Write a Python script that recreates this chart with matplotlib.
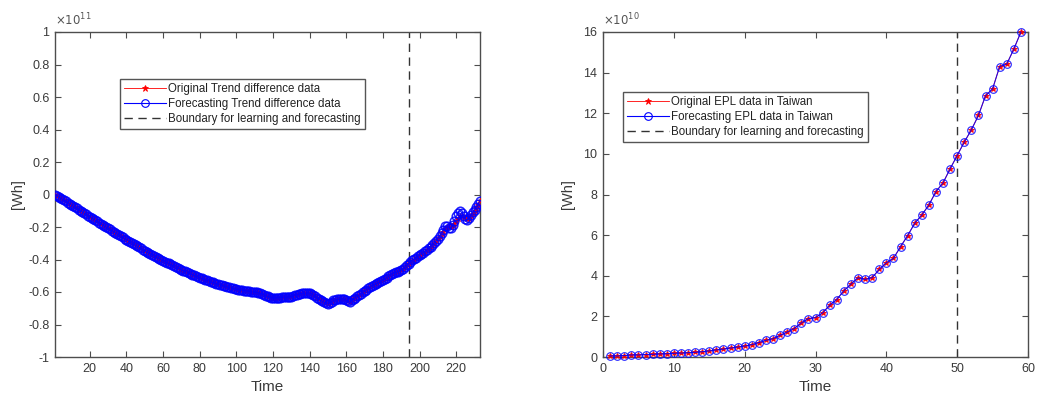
import numpy as np
import matplotlib
matplotlib.use("Agg")
import matplotlib.pyplot as plt
from matplotlib.lines import Line2D

plt.rcParams['font.family'] = ['Liberation Sans', 'DejaVu Sans']
plt.rcParams['axes.unicode_minus'] = False

# ---------------- data (left: trend difference, units of 1e11 Wh) ----------------
trend_original = [
    0.000, -0.007, -0.014, -0.022, -0.029, -0.036, -0.043, -0.050, -0.058, -0.065,
    -0.072, -0.079, -0.086, -0.094, -0.101, -0.108, -0.115, -0.122, -0.130, -0.137,
    -0.144, -0.151, -0.158, -0.166, -0.173, -0.180, -0.187, -0.194, -0.201, -0.208,
    -0.215, -0.222, -0.229, -0.236, -0.243, -0.250, -0.257, -0.264, -0.271, -0.278,
    -0.285, -0.292, -0.299, -0.306, -0.312, -0.319, -0.326, -0.332, -0.339, -0.345,
    -0.352, -0.358, -0.364, -0.371, -0.377, -0.383, -0.389, -0.395, -0.401, -0.407,
    -0.413, -0.419, -0.424, -0.430, -0.436, -0.441, -0.447, -0.452, -0.457, -0.463,
    -0.468, -0.473, -0.478, -0.483, -0.488, -0.493, -0.498, -0.503, -0.507, -0.512,
    -0.516, -0.521, -0.525, -0.529, -0.533, -0.537, -0.541, -0.545, -0.549, -0.552,
    -0.556, -0.559, -0.563, -0.566, -0.569, -0.572, -0.575, -0.578, -0.580, -0.583,
    -0.585, -0.587, -0.589, -0.591, -0.593, -0.594, -0.596, -0.598, -0.600, -0.601,
    -0.603, -0.605, -0.608, -0.612, -0.617, -0.622, -0.627, -0.631, -0.634, -0.636,
    -0.637, -0.636, -0.635, -0.634, -0.633, -0.632, -0.632, -0.631, -0.630, -0.628,
    -0.625, -0.621, -0.617, -0.613, -0.610, -0.609, -0.608, -0.607, -0.606, -0.607,
    -0.610, -0.617, -0.626, -0.636, -0.645, -0.652, -0.658, -0.664, -0.669, -0.672,
    -0.668, -0.660, -0.652, -0.648, -0.646, -0.645, -0.643, -0.642, -0.644, -0.650,
    -0.656, -0.660, -0.652, -0.643, -0.634, -0.626, -0.618, -0.610, -0.602, -0.594,
    -0.586, -0.578, -0.571, -0.563, -0.557, -0.551, -0.546, -0.541, -0.535, -0.528,
    -0.520, -0.512, -0.504, -0.496, -0.489, -0.483, -0.479, -0.475, -0.470, -0.464,
    -0.457, -0.447, -0.436, -0.425, -0.416, -0.408, -0.400, -0.392, -0.384, -0.376,
    -0.368, -0.360, -0.352, -0.343, -0.334, -0.324, -0.313, -0.301, -0.289, -0.276,
    -0.262, -0.246, -0.228, -0.210, -0.200, -0.198, -0.200, -0.196, -0.182, -0.165,
    -0.148, -0.132, -0.130, -0.138, -0.145, -0.150, -0.148, -0.135, -0.118, -0.100,
    -0.083, -0.062, -0.040,
]
trend_boundary = 194
trend_forecast_tail = [
    -0.413, -0.405, -0.398, -0.389, -0.381, -0.372, -0.364, -0.357, -0.349, -0.340,
    -0.331, -0.320, -0.309, -0.297, -0.285, -0.271, -0.256, -0.238, -0.218, -0.195,
    -0.192, -0.205, -0.208, -0.190, -0.160, -0.135, -0.112, -0.100, -0.112, -0.132,
    -0.150, -0.155, -0.146, -0.128, -0.110, -0.094, -0.076, -0.058, -0.038,
]
trend_forecast = trend_original[:trend_boundary] + trend_forecast_tail

# ---------------- data (right: EPL in Taiwan, units of 1e10 Wh) ----------------
epl_original = [
    0.05, 0.05, 0.07, 0.10, 0.10, 0.12, 0.13, 0.15, 0.16, 0.18,
    0.19, 0.21, 0.23, 0.26, 0.30, 0.35, 0.39, 0.44, 0.49, 0.54,
    0.61, 0.71, 0.82, 0.90, 1.07, 1.23, 1.40, 1.68, 1.89, 1.94,
    2.17, 2.55, 2.83, 3.26, 3.59, 3.90, 3.82, 3.91, 4.31, 4.64,
    4.85, 5.43, 5.97, 6.58, 6.99, 7.48, 8.14, 8.57, 9.26, 9.92,
    10.58, 11.18, 11.89, 12.86, 13.20, 14.30, 14.42, 15.16, 16.00,
]
epl_forecast = list(epl_original)
epl_boundary = 50

left_xticks = [20, 40, 60, 80, 100, 120, 140, 160, 180, 200, 220]
left_yticks = [-1, -0.8, -0.6, -0.4, -0.2, 0, 0.2, 0.4, 0.6, 0.8, 1]
left_yticklabels = ['-1', '-0.8', '-0.6', '-0.4', '-0.2', '0', '0.2', '0.4', '0.6', '0.8', '1']
right_xticks = [0, 10, 20, 30, 40, 50, 60]
right_yticks = [0, 2, 4, 6, 8, 10, 12, 14, 16]

left_labels = ['Original Trend difference data', 'Forecasting Trend difference data',
               'Boundary for learning and forecasting']
right_labels = ['Original EPL data in Taiwan', 'Forecasting EPL data in Taiwan',
                'Boundary for learning and forecasting']

# ---------------- figure ----------------
W, H = 1037, 398
fig = plt.figure(figsize=(W / 100, H / 100), dpi=100)
axc = '#4d4d4d'
txtc = '#3a3a3a'


def px_axes(x0, y0, x1, y1):
    return fig.add_axes([x0 / W, 1 - y1 / H, (x1 - x0) / W, (y1 - y0) / H])


def style(ax):
    for s in ax.spines.values():
        s.set_color(axc)
        s.set_linewidth(1.0)
    ax.tick_params(direction='in', top=True, right=True, length=4, width=0.8,
                   color=axc, labelcolor=txtc, labelsize=9, pad=4)


def draw(ax, x, orig, fc, boundary, labels, leg_anchor, ms, mew, clip):
    ax.plot(x, orig, color='red', lw=0.6, marker='*', ms=4, mew=0.6, zorder=3,
            clip_on=clip)
    ax.plot(x, fc, color='blue', lw=0.8, marker='o', ms=ms, mfc='none', mew=mew,
            alpha=0.85, zorder=4, clip_on=clip)
    ax.axvline(boundary, color='#333333', lw=1.0, ls=(0, (6, 4)), zorder=2)
    handles = [
        Line2D([], [], color='red', lw=0.6, marker='*', ms=5, mew=0.6),
        Line2D([], [], color='blue', lw=0.8, marker='o', ms=5.5, mfc='none', mew=0.8),
        Line2D([], [], color='#333333', lw=1.0, ls=(0, (6, 4))),
    ]
    leg = ax.legend(handles, labels, loc='upper left', bbox_to_anchor=leg_anchor,
                    borderaxespad=0, fontsize=8.3, handlelength=3.6, handletextpad=0.2,
                    labelspacing=0.25, borderpad=0.35, fancybox=False, framealpha=1,
                    edgecolor='#555555')
    leg.get_frame().set_linewidth(1.0)
    for t in leg.get_texts():
        t.set_color('#222222')


# left
ax1 = px_axes(55, 32, 480, 357)
x1 = np.arange(1, len(trend_original) + 1)
draw(ax1, x1, trend_original, trend_forecast, trend_boundary, left_labels,
     ((120 - 55) / 425, (357 - 79) / 325), 6.2, 1.1, True)
ax1.set_xlim(1, len(trend_original))
ax1.set_ylim(-1, 1)
ax1.set_xticks(left_xticks)
ax1.set_yticks(left_yticks)
ax1.set_yticklabels(left_yticklabels)
style(ax1)
ax1.set_xlabel('Time', fontsize=11, color=txtc, labelpad=4)
ax1.set_ylabel('[Wh]', fontsize=10.5, color=txtc, labelpad=2)
ax1.text(0.0, 1.012, r'$\times10^{11}$', transform=ax1.transAxes, fontsize=8.5,
         color='#555555', ha='left', va='bottom')

# right
ax2 = px_axes(603, 32, 1028, 357)
x2 = np.arange(1, len(epl_original) + 1)
draw(ax2, x2, epl_original, epl_forecast, epl_boundary, right_labels,
     ((623 - 603) / 425, (357 - 92) / 325), 5.5, 0.8, False)
ax2.set_xlim(0, 60)
ax2.set_ylim(0, 16)
ax2.set_xticks(right_xticks)
ax2.set_yticks(right_yticks)
style(ax2)
ax2.set_xlabel('Time', fontsize=11, color=txtc, labelpad=4)
ax2.set_ylabel('[Wh]', fontsize=10.5, color=txtc, labelpad=6)
ax2.text(0.0, 1.012, r'$\times10^{10}$', transform=ax2.transAxes, fontsize=8.5,
         color='#555555', ha='left', va='bottom')

fig.savefig('out.png', dpi=100)
